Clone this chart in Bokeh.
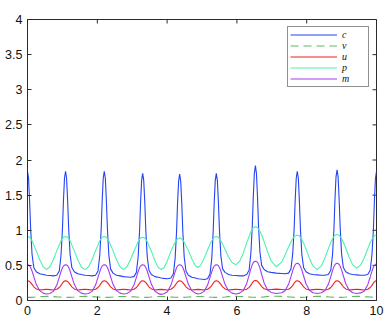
from math import pi
from bokeh.plotting import figure
from bokeh.models import FixedTicker, Range1d, Legend, LegendItem
from bokeh.embed import file_html
from bokeh.resources import INLINE

# ---- data ----
# times of the peaks of c (all series peak together)
peak_t = [0.00, 1.09, 2.20, 3.30, 4.36, 5.41, 6.53, 7.73, 8.87, 10.00]
# sample offsets after a peak and before the next one (mid-point sits between them)
after_dt = [0.03, 0.06, 0.09, 0.13, 0.18, 0.25, 0.35, 0.45]
before_dt = [-0.45, -0.35, -0.25, -0.18, -0.13, -0.09, -0.06, -0.03]

# each row: [peak, 8 values after peak, mid value, 8 values before next peak]
c_rows = [
    [1.84, 1.74, 1.42, 1.02, 0.66, 0.47, 0.41, 0.38, 0.37, 0.36, 0.355, 0.35, 0.36, 0.42, 0.64, 1.00, 1.42, 1.74],
    [1.84, 1.74, 1.42, 1.02, 0.66, 0.47, 0.41, 0.38, 0.37, 0.36, 0.355, 0.35, 0.36, 0.42, 0.64, 1.00, 1.42, 1.74],
    [1.84, 1.74, 1.42, 1.02, 0.65, 0.45, 0.39, 0.36, 0.35, 0.34, 0.335, 0.33, 0.34, 0.40, 0.62, 0.98, 1.40, 1.71],
    [1.81, 1.71, 1.40, 1.00, 0.63, 0.43, 0.37, 0.34, 0.33, 0.32, 0.315, 0.31, 0.32, 0.38, 0.60, 0.97, 1.39, 1.70],
    [1.80, 1.70, 1.39, 0.99, 0.62, 0.42, 0.36, 0.33, 0.32, 0.31, 0.305, 0.30, 0.31, 0.38, 0.60, 0.98, 1.40, 1.71],
    [1.81, 1.71, 1.40, 1.00, 0.64, 0.45, 0.40, 0.37, 0.36, 0.355, 0.35, 0.35, 0.37, 0.43, 0.67, 1.05, 1.48, 1.81],
    [1.92, 1.81, 1.48, 1.06, 0.69, 0.50, 0.44, 0.41, 0.40, 0.39, 0.385, 0.38, 0.39, 0.45, 0.67, 1.02, 1.43, 1.74],
    [1.84, 1.74, 1.42, 1.02, 0.66, 0.47, 0.41, 0.38, 0.37, 0.365, 0.36, 0.36, 0.37, 0.43, 0.65, 1.01, 1.44, 1.76],
    [1.86, 1.76, 1.43, 1.03, 0.66, 0.47, 0.41, 0.38, 0.37, 0.365, 0.36, 0.36, 0.37, 0.43, 0.65, 1.00, 1.42, 1.74],
]
c_end = 1.84

v_rows = [
    [0.045, 0.045, 0.045, 0.045, 0.045, 0.047, 0.050, 0.055, 0.058, 0.060, 0.058, 0.055, 0.052, 0.050, 0.048, 0.047, 0.046, 0.045],
    [0.045, 0.045, 0.045, 0.045, 0.045, 0.047, 0.050, 0.055, 0.058, 0.060, 0.058, 0.055, 0.052, 0.050, 0.048, 0.047, 0.046, 0.045],
    [0.045, 0.045, 0.045, 0.045, 0.045, 0.047, 0.050, 0.054, 0.057, 0.058, 0.057, 0.054, 0.051, 0.049, 0.047, 0.046, 0.045, 0.045],
    [0.045, 0.045, 0.045, 0.045, 0.045, 0.046, 0.049, 0.053, 0.056, 0.057, 0.056, 0.053, 0.050, 0.048, 0.047, 0.046, 0.045, 0.045],
    [0.045, 0.045, 0.045, 0.045, 0.045, 0.046, 0.049, 0.053, 0.056, 0.057, 0.056, 0.053, 0.050, 0.048, 0.047, 0.046, 0.045, 0.045],
    [0.045, 0.045, 0.045, 0.045, 0.045, 0.047, 0.050, 0.055, 0.058, 0.060, 0.058, 0.055, 0.052, 0.050, 0.048, 0.047, 0.046, 0.046],
    [0.046, 0.046, 0.046, 0.046, 0.046, 0.048, 0.051, 0.056, 0.059, 0.061, 0.059, 0.056, 0.052, 0.050, 0.048, 0.047, 0.046, 0.045],
    [0.045, 0.045, 0.045, 0.045, 0.045, 0.047, 0.050, 0.055, 0.058, 0.060, 0.058, 0.055, 0.052, 0.050, 0.048, 0.047, 0.046, 0.045],
    [0.045, 0.045, 0.045, 0.045, 0.045, 0.047, 0.050, 0.055, 0.058, 0.060, 0.058, 0.055, 0.052, 0.050, 0.048, 0.047, 0.046, 0.045],
]
v_end = 0.045

u_rows = [
    [0.280, 0.278, 0.270, 0.255, 0.230, 0.195, 0.165, 0.150, 0.155, 0.160, 0.155, 0.150, 0.160, 0.185, 0.215, 0.245, 0.265, 0.277],
    [0.280, 0.278, 0.270, 0.255, 0.230, 0.195, 0.165, 0.150, 0.155, 0.160, 0.155, 0.150, 0.160, 0.185, 0.215, 0.245, 0.265, 0.277],
    [0.280, 0.278, 0.270, 0.255, 0.230, 0.195, 0.165, 0.150, 0.155, 0.160, 0.155, 0.150, 0.160, 0.185, 0.215, 0.245, 0.265, 0.277],
    [0.280, 0.278, 0.270, 0.255, 0.230, 0.195, 0.165, 0.150, 0.155, 0.158, 0.155, 0.150, 0.160, 0.185, 0.215, 0.245, 0.265, 0.277],
    [0.280, 0.278, 0.270, 0.255, 0.230, 0.195, 0.165, 0.150, 0.155, 0.158, 0.155, 0.150, 0.160, 0.185, 0.215, 0.245, 0.265, 0.277],
    [0.280, 0.278, 0.270, 0.255, 0.230, 0.195, 0.165, 0.150, 0.155, 0.160, 0.155, 0.150, 0.160, 0.187, 0.218, 0.250, 0.270, 0.282],
    [0.285, 0.283, 0.274, 0.258, 0.232, 0.197, 0.167, 0.152, 0.157, 0.162, 0.157, 0.152, 0.160, 0.185, 0.215, 0.245, 0.265, 0.277],
    [0.280, 0.278, 0.270, 0.255, 0.230, 0.195, 0.165, 0.150, 0.155, 0.160, 0.155, 0.150, 0.160, 0.185, 0.215, 0.245, 0.265, 0.277],
    [0.280, 0.278, 0.270, 0.255, 0.230, 0.195, 0.165, 0.150, 0.155, 0.160, 0.155, 0.150, 0.160, 0.185, 0.215, 0.245, 0.265, 0.277],
]
u_end = 0.280

p_rows = [
    [0.91, 0.907, 0.897, 0.880, 0.850, 0.790, 0.710, 0.580, 0.480, 0.440, 0.480, 0.580, 0.710, 0.790, 0.850, 0.880, 0.897, 0.907],
    [0.91, 0.907, 0.897, 0.880, 0.850, 0.790, 0.710, 0.580, 0.480, 0.440, 0.480, 0.580, 0.710, 0.790, 0.850, 0.880, 0.897, 0.907],
    [0.91, 0.907, 0.897, 0.880, 0.850, 0.790, 0.710, 0.580, 0.480, 0.440, 0.480, 0.580, 0.700, 0.780, 0.840, 0.870, 0.887, 0.897],
    [0.90, 0.897, 0.887, 0.870, 0.840, 0.780, 0.700, 0.570, 0.465, 0.440, 0.465, 0.570, 0.700, 0.780, 0.830, 0.860, 0.877, 0.887],
    [0.89, 0.887, 0.877, 0.860, 0.830, 0.780, 0.710, 0.590, 0.495, 0.470, 0.500, 0.600, 0.720, 0.800, 0.850, 0.880, 0.897, 0.907],
    [0.91, 0.907, 0.897, 0.880, 0.850, 0.800, 0.730, 0.620, 0.540, 0.510, 0.560, 0.670, 0.820, 0.910, 0.980, 1.015, 1.035, 1.045],
    [1.05, 1.046, 1.036, 1.019, 0.986, 0.933, 0.839, 0.691, 0.563, 0.480, 0.546, 0.647, 0.763, 0.837, 0.880, 0.905, 0.919, 0.927],
    [0.93, 0.927, 0.917, 0.900, 0.870, 0.820, 0.732, 0.599, 0.492, 0.440, 0.493, 0.602, 0.738, 0.826, 0.878, 0.910, 0.927, 0.937],
    [0.94, 0.937, 0.927, 0.910, 0.880, 0.830, 0.743, 0.612, 0.507, 0.460, 0.506, 0.609, 0.737, 0.822, 0.871, 0.901, 0.917, 0.927],
]
p_end = 0.93

m_rows = [
    [0.51, 0.506, 0.494, 0.470, 0.420, 0.340, 0.230, 0.140, 0.105, 0.092, 0.100, 0.130, 0.220, 0.330, 0.410, 0.465, 0.490, 0.505],
    [0.51, 0.506, 0.494, 0.470, 0.420, 0.340, 0.230, 0.140, 0.105, 0.092, 0.100, 0.130, 0.220, 0.330, 0.410, 0.465, 0.490, 0.505],
    [0.51, 0.506, 0.494, 0.470, 0.420, 0.340, 0.230, 0.140, 0.105, 0.092, 0.100, 0.130, 0.220, 0.330, 0.410, 0.465, 0.490, 0.505],
    [0.51, 0.506, 0.494, 0.470, 0.420, 0.340, 0.230, 0.135, 0.098, 0.087, 0.095, 0.125, 0.220, 0.330, 0.410, 0.465, 0.490, 0.505],
    [0.51, 0.506, 0.494, 0.470, 0.420, 0.340, 0.230, 0.140, 0.105, 0.092, 0.100, 0.130, 0.220, 0.330, 0.410, 0.465, 0.490, 0.505],
    [0.51, 0.506, 0.494, 0.470, 0.420, 0.340, 0.230, 0.140, 0.105, 0.092, 0.105, 0.140, 0.240, 0.360, 0.450, 0.510, 0.540, 0.555],
    [0.56, 0.556, 0.543, 0.515, 0.460, 0.370, 0.250, 0.150, 0.115, 0.100, 0.110, 0.140, 0.230, 0.340, 0.425, 0.482, 0.510, 0.525],
    [0.53, 0.526, 0.513, 0.488, 0.436, 0.352, 0.238, 0.145, 0.110, 0.100, 0.110, 0.140, 0.230, 0.340, 0.425, 0.482, 0.510, 0.525],
    [0.53, 0.526, 0.513, 0.488, 0.436, 0.352, 0.238, 0.145, 0.110, 0.100, 0.108, 0.135, 0.225, 0.335, 0.418, 0.473, 0.500, 0.515],
]
m_end = 0.52

series_names = ["c", "v", "u", "p", "m"]
series_colors = ["#2343F5", "#5DBB5D", "#F01E1E", "#4CF2B0", "#A43CF0"]
series_dash = ["solid", "8 5", "solid", "solid", "solid"]

x_lim = [0, 10]
y_lim = [0, 4]
x_ticks = [0, 2, 4, 6, 8, 10]
y_ticks = [0, 0.5, 1, 1.5, 2, 2.5, 3, 3.5, 4]
y_tick_labels = ["0", "0.5", "1", "1.5", "2", "2.5", "3", "3.5", "4"]

# ---- build sample times ----
t = []
for k in range(len(peak_t) - 1):
    a, b = peak_t[k], peak_t[k + 1]
    t.append(a)
    t.extend(a + d for d in after_dt)
    t.append((a + b) / 2)
    t.extend(b + d for d in before_dt)
t.append(peak_t[-1])


def flatten(rows, end):
    out = []
    for r in rows:
        out.extend(r)
    out.append(end)
    return out


values = [flatten(c_rows, c_end), flatten(v_rows, v_end), flatten(u_rows, u_end),
          flatten(p_rows, p_end), flatten(m_rows, m_end)]

# ---- figure ----
p = figure(width=390, height=321, output_backend="svg", toolbar_location=None,
           x_range=Range1d(*x_lim), y_range=Range1d(*y_lim),
           min_border_left=27, min_border_right=14, min_border_top=19, min_border_bottom=21)
p.xgrid.visible = False
p.ygrid.visible = False
AX_COLOR = "#2b2b2b"
p.outline_line_color = AX_COLOR
p.outline_line_width = 1
p.background_fill_color = "white"
p.border_fill_color = "white"

FONT = "Liberation Sans"

for ax in (p.xaxis[0], p.yaxis[0]):
    ax.major_tick_in = 4
    ax.major_tick_out = 0
    ax.minor_tick_line_color = None
    ax.axis_line_color = AX_COLOR
    ax.major_tick_line_color = AX_COLOR
    ax.major_label_text_font = FONT
    ax.major_label_text_font_size = "12.5px"
    ax.major_label_text_color = "#111111"
p.xaxis.major_label_standoff = 5
p.yaxis.major_label_standoff = 5

p.xaxis.ticker = FixedTicker(ticks=x_ticks)
p.yaxis.ticker = FixedTicker(ticks=y_ticks)
p.yaxis.major_label_overrides = {
    (int(v) if float(v).is_integer() else v): lab for v, lab in zip(y_ticks, y_tick_labels)
}

# inward ticks on the top and right edges of the box (clipped to the frame)
p.scatter(x_ticks, [y_lim[1]] * len(x_ticks), marker="dash", angle=pi / 2, size=8,
          line_color=AX_COLOR, line_width=1)
p.scatter([x_lim[1]] * len(y_ticks), y_ticks, marker="dash", size=8,
          line_color=AX_COLOR, line_width=1)

items = []
for name, vals, col, dash in zip(series_names, values, series_colors, series_dash):
    r = p.line(t, vals, line_color=col, line_width=1.1, line_dash=dash)
    items.append(LegendItem(label=name, renderers=[r]))

legend = Legend(items=items, location="top_right")
legend.margin = 7
legend.padding = 2
legend.spacing = 0
legend.glyph_width = 47
legend.glyph_height = 9
legend.label_height = 9
legend.label_width = 24
legend.label_standoff = 5
legend.label_text_font = "Liberation Serif"
legend.label_text_font_style = "italic"
legend.label_text_font_size = "10px"
legend.label_text_color = "#111111"
legend.border_line_color = "#222222"
legend.border_line_width = 1
legend.background_fill_color = "white"
legend.background_fill_alpha = 1.0
p.add_layout(legend)

open("out.html", "w").write(file_html(p, INLINE))
